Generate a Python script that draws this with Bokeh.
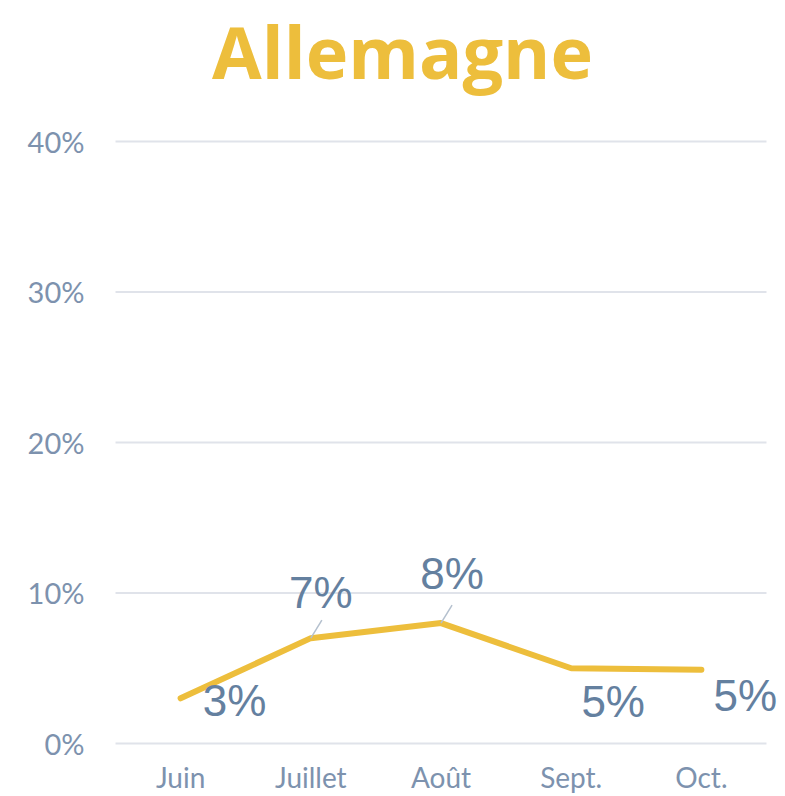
from bokeh.plotting import figure
from bokeh.models import (ColumnDataSource, LabelSet, Label, FixedTicker, Range1d,
                          FactorRange)
from bokeh.core.properties import value
from bokeh.transform import dodge
from bokeh.embed import file_html
from bokeh.resources import INLINE

months = ["Juin", "Juillet", "Août", "Sept.", "Oct."]
values = [3.0, 7.0, 8.0, 5.0, 4.9]
value_labels = ["3%", "7%", "8%", "5%", "5%"]
yticks = [0, 10, 20, 30, 40]
ytick_labels = ["0%", "10%", "20%", "30%", "40%"]
title_text = "Allemagne"

# label placement (style, pixels)
label_dx = [54, 10, 11, 42, 44]
label_dy = [-2, 46, 50, -33, -26]
leader_idx = [1, 2]

YELLOW = "#EDBE3C"
LABEL = "#64809F"
TICK = "#7D92AE"

W, H = 785, 796
LEFT = 96

x_range = FactorRange(factors=months, range_padding=0.146,
                      range_padding_units="absolute")
p = figure(width=W, height=H, x_range=x_range, y_range=Range1d(-3.522, 49.369),
           output_backend="svg", toolbar_location=None,
           min_border_left=LEFT, min_border_right=0, min_border_top=0,
           min_border_bottom=0)
p.outline_line_color = None
p.background_fill_color = "white"
p.border_fill_color = "white"

# title (screen units inside the frame, y measured from the bottom)
p.add_layout(Label(x=306, y=H - 50, x_units="screen", y_units="screen",
                   text=title_text, text_align="center", text_baseline="alphabetic",
                   text_font="Open Sans", text_font_style="bold",
                   text_font_size="72px", text_color=YELLOW))

p.xaxis.visible = False
p.xgrid.visible = False
p.ygrid.visible = False
p.yaxis.ticker = FixedTicker(ticks=yticks)
p.yaxis.major_label_overrides = {t_: l for t_, l in zip(yticks, ytick_labels)}
p.yaxis.axis_line_color = None
p.yaxis.major_tick_line_color = None
p.yaxis.minor_tick_line_color = None
p.yaxis.major_label_standoff = 6
p.yaxis.major_label_text_font = "Lato"
p.yaxis.major_label_text_font_size = "29px"
p.yaxis.major_label_text_color = TICK

# horizontal grid lines across the category band (synthetic coordinates)
gsrc = ColumnDataSource(dict(y=yticks, x0=[0] * len(yticks),
                             x1=[len(months)] * len(yticks)))
p.segment(x0="x0", x1="x1", y0="y", y1="y", source=gsrc,
          line_color="#E0E3EA", line_width=2)

src = ColumnDataSource(dict(month=months, val=values, lab=value_labels,
                            dx=label_dx, dy=label_dy,
                            zero=[0] * len(months)))

p.line("month", "val", source=src, line_color=YELLOW, line_width=6,
       line_cap="round", line_join="round")

lsrc = ColumnDataSource(dict(month=[months[i] for i in leader_idx],
                             val=[values[i] for i in leader_idx],
                             top=[values[i] + 1.2 for i in leader_idx]))
p.segment(x0="month", y0="val", x1=dodge("month", 0.085, range=p.x_range), y1="top",
          source=lsrc, line_color="#B4C0CE", line_width=1.5)

p.add_layout(LabelSet(x="month", y="val", text="lab", source=src,
                      x_offset="dx", y_offset="dy", text_align="center",
                      text_baseline="middle", text_font=value("Liberation Sans"),
                      text_font_size="44px", text_color=LABEL))

p.add_layout(LabelSet(x="month", y="zero", text="month", source=src,
                      y_offset=-17, text_align="center", text_baseline="top",
                      text_font=value("Lato"), text_font_size="28px",
                      text_color=TICK))

open("out.html", "w").write(file_html(p, INLINE))
